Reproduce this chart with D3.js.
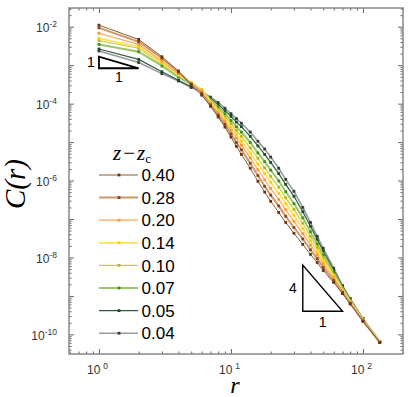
<!DOCTYPE html>
<html>
<head>
<meta charset="utf-8">
<script src="https://cdn.jsdelivr.net/npm/d3@7"></script>
<style>
  body { margin: 0; background: #fff; }
  svg { display: block; }
</style>
</head>
<body>
<div id="chart"></div>
<script>
const rValues = [1, 2, 3, 4, 5, 6, 7, 8, 9, 10, 11, 12, 14, 16, 18, 20, 23, 26, 30, 35, 40, 45, 50, 60, 70, 80, 100, 134];

// log10 C(r), one array per z - zc
const logC040 = [-1.96, -2.33, -2.78, -3.15, -3.52, -3.78, -4.07, -4.35, -4.61, -4.87, -5.11, -5.32, -5.68, -6.02, -6.30, -6.54, -6.83, -7.09, -7.37, -7.66, -7.92, -8.13, -8.34, -8.65, -8.94, -9.21, -9.66, -10.21];
const logC028 = [-2.03, -2.39, -2.82, -3.18, -3.49, -3.73, -4.03, -4.30, -4.54, -4.79, -5.01, -5.20, -5.55, -5.87, -6.15, -6.38, -6.66, -6.93, -7.22, -7.52, -7.80, -8.03, -8.26, -8.60, -8.91, -9.19, -9.65, -10.21];
const logC020 = [-2.17, -2.46, -2.89, -3.22, -3.47, -3.67, -4.00, -4.24, -4.47, -4.70, -4.90, -5.08, -5.41, -5.72, -5.98, -6.21, -6.49, -6.76, -7.06, -7.38, -7.68, -7.93, -8.17, -8.54, -8.88, -9.17, -9.64, -10.20];
const logC014 = [-2.30, -2.52, -2.93, -3.24, -3.45, -3.64, -3.96, -4.19, -4.40, -4.61, -4.80, -4.97, -5.28, -5.57, -5.82, -6.05, -6.33, -6.60, -6.90, -7.25, -7.56, -7.84, -8.09, -8.49, -8.85, -9.15, -9.63, -10.20];
const logC010 = [-2.36, -2.56, -2.96, -3.27, -3.47, -3.64, -3.93, -4.14, -4.33, -4.52, -4.70, -4.85, -5.15, -5.42, -5.67, -5.89, -6.17, -6.45, -6.75, -7.11, -7.45, -7.74, -8.01, -8.44, -8.82, -9.13, -9.62, -10.20];
const logC007 = [-2.46, -2.65, -3.02, -3.31, -3.49, -3.65, -3.90, -4.08, -4.26, -4.44, -4.60, -4.74, -5.01, -5.28, -5.51, -5.73, -6.01, -6.29, -6.60, -6.97, -7.33, -7.65, -7.93, -8.39, -8.79, -9.11, -9.61, -10.19];
const logC005 = [-2.58, -2.85, -3.17, -3.39, -3.56, -3.67, -3.86, -4.02, -4.18, -4.33, -4.48, -4.60, -4.85, -5.10, -5.32, -5.53, -5.82, -6.10, -6.41, -6.81, -7.19, -7.53, -7.83, -8.33, -8.75, -9.08, -9.60, -10.19];
const logC004 = [-2.63, -2.93, -3.22, -3.41, -3.58, -3.69, -3.83, -3.97, -4.12, -4.26, -4.39, -4.51, -4.74, -4.98, -5.18, -5.39, -5.68, -5.97, -6.28, -6.70, -7.09, -7.45, -7.76, -8.28, -8.73, -9.07, -9.59, -10.19];

const seriesLabels = ["0.40", "0.28", "0.20", "0.14", "0.10", "0.07", "0.05", "0.04"];
const seriesLogC = [logC040, logC028, logC020, logC014, logC010, logC007, logC005, logC004];

// slope guides: [r, log10 C] corners
const guideSmall = [[1, -2.78], [1, -3.08], [2, -3.08]];
const guideBig = [[35, -8.20], [35, -9.40], [70, -9.40]];

const xTickPowers = [0, 1, 2];
const yTickPowers = [-2, -4, -6, -8, -10];

// styles
const lineColors = ["#8c5a32", "#c99a6c", "#ffa852", "#ffe15a", "#cccc3c", "#9cc66a", "#2f5b40", "#9a9a9a"];
const markerColors = ["#6b3410", "#8b4513", "#ff9430", "#ffd000", "#b8b81c", "#3c9614", "#1d4a2c", "#3a3a3a"];
const lineWidths = [1, 2, 1.2, 1.8, 1.2, 2, 1.2, 1.6];

const W = 415, H = 397;
const margin = { top: 8, right: 12, bottom: 43, left: 69 };

const svg = d3.select("#chart").append("svg")
  .attr("width", W)
  .attr("height", H);

const x = d3.scaleLog()
  .domain([0.593, 201])
  .range([margin.left, W - margin.right]);

const y = d3.scaleLog()
  .domain([Math.pow(10, -1.513), Math.pow(10, -10.51)])
  .range([margin.top, H - margin.bottom]);

const [x0, x1] = x.range();
const [y0, y1] = y.range();

// minor / major tick values
function logTicks(scale) {
  const d = scale.domain();
  const lo = Math.min(d[0], d[1]), hi = Math.max(d[0], d[1]);
  const major = [], minor = [];
  for (let k = Math.floor(Math.log10(lo)); k <= Math.ceil(Math.log10(hi)); k++) {
    for (let m = 1; m <= 9; m++) {
      const v = m * Math.pow(10, k);
      if (v < lo || v > hi) continue;
      (m === 1 ? major : minor).push(v);
    }
  }
  return { major, minor };
}
const xt = logTicks(x), yt = logTicks(y);

function ticks(axis, values, size, transform) {
  svg.append("g")
    .attr("transform", transform)
    .call(axis.tickValues(values).tickSize(-size).tickFormat(""))
    .call(g => g.select(".domain").remove())
    .call(g => g.selectAll(".tick line").attr("stroke", "#555").attr("stroke-width", 0.9));
}

ticks(d3.axisBottom(x), xt.minor, 2.5, `translate(0,${y1})`);
ticks(d3.axisBottom(x), xt.major, 5, `translate(0,${y1})`);
ticks(d3.axisTop(x), xt.minor, 2.5, `translate(0,${y0})`);
ticks(d3.axisTop(x), xt.major, 5, `translate(0,${y0})`);
ticks(d3.axisLeft(y), yt.minor, 2.5, `translate(${x0},0)`);
ticks(d3.axisLeft(y), yt.major, 5, `translate(${x0},0)`);
ticks(d3.axisRight(y), yt.minor, 2.5, `translate(${x1},0)`);
ticks(d3.axisRight(y), yt.major, 5, `translate(${x1},0)`);

// frame
svg.append("rect")
  .attr("x", x0).attr("y", y0)
  .attr("width", x1 - x0).attr("height", y1 - y0)
  .attr("fill", "none")
  .attr("stroke", "#888")
  .attr("stroke-width", 1.5);

// tick labels
const labelFont = "'Liberation Sans', Arial, sans-serif";
yTickPowers.forEach(p => {
  const t = svg.append("text")
    .attr("x", x0 - 12)
    .attr("y", y(Math.pow(10, p)) + 5.5)
    .attr("text-anchor", "end")
    .attr("font-family", labelFont)
    .attr("font-size", 12)
    .attr("fill", "#333");
  t.append("tspan").text("10");
  t.append("tspan").attr("dy", -4.8).attr("font-size", 8.5).text(String(p));
});
xTickPowers.forEach(p => {
  const t = svg.append("text")
    .attr("x", x(Math.pow(10, p)) - 12)
    .attr("y", y1 + 20)
    .attr("font-family", labelFont)
    .attr("font-size", 12)
    .attr("fill", "#333");
  t.append("tspan").text("10");
  t.append("tspan").attr("dx", 3).attr("dy", -5).attr("font-size", 8.5).text(String(p));
});

// axis titles
const mathFont = "'Liberation Serif', 'DejaVu Serif', serif";
svg.append("text")
  .attr("transform", `translate(25,${(y0 + y1) / 2 + 3}) rotate(-90)`)
  .attr("text-anchor", "middle")
  .attr("font-family", mathFont)
  .attr("font-style", "italic")
  .attr("font-size", 29)
  .text("C(r)");

svg.append("text")
  .attr("x", 235)
  .attr("y", 393)
  .attr("text-anchor", "middle")
  .attr("font-family", mathFont)
  .attr("font-style", "italic")
  .attr("font-size", 24)
  .text("r");

// curves
const line = d3.line()
  .x(d => x(d.r))
  .y(d => y(d.c));

const series = seriesLabels.map((label, i) => ({
  label,
  i,
  values: rValues.map((r, j) => ({ r, c: Math.pow(10, seriesLogC[i][j]) }))
}));

const plot = svg.append("g");
series.slice().reverse().forEach(s => {
  const g = plot.append("g");
  g.append("path")
    .datum(s.values)
    .attr("d", line)
    .attr("fill", "none")
    .attr("stroke", lineColors[s.i])
    .attr("stroke-width", lineWidths[s.i]);
  g.selectAll("rect")
    .data(s.values)
    .enter()
    .append("rect")
    .attr("x", d => x(d.r) - 1.4)
    .attr("y", d => y(d.c) - 1.4)
    .attr("width", 2.8)
    .attr("height", 2.8)
    .attr("fill", markerColors[s.i]);
});

// slope guides
const guideLine = d3.line()
  .x(d => x(d[0]))
  .y(d => y(Math.pow(10, d[1])))
  .curve(d3.curveLinearClosed);

svg.append("path")
  .attr("d", guideLine(guideSmall))
  .attr("fill", "none")
  .attr("stroke", "#000")
  .attr("stroke-width", 1.8);
svg.append("path")
  .attr("d", guideLine(guideBig))
  .attr("fill", "none")
  .attr("stroke", "#000")
  .attr("stroke-width", 1.4);

const gs = guideSmall, gb = guideBig;
function guideText(px, py, s) {
  svg.append("text")
    .attr("x", px).attr("y", py)
    .attr("text-anchor", "middle")
    .attr("font-family", labelFont)
    .attr("font-size", 14)
    .text(s);
}
guideText(x(gs[0][0]) - 8, y(Math.pow(10, (gs[0][1] + gs[1][1]) / 2)) + 5, "1");
guideText(x(Math.sqrt(gs[1][0] * gs[2][0])), y(Math.pow(10, gs[1][1])) + 14, "1");
guideText(x(gb[0][0]) - 10, y(Math.pow(10, (gb[0][1] + gb[1][1]) / 2)) + 5, "4");
guideText(x(Math.sqrt(gb[1][0] * gb[2][0])), y(Math.pow(10, gb[1][1])) + 16, "1");

// legend
const legend = svg.append("g").attr("transform", "translate(99,175)");
const legendTitle = legend.append("text")
  .attr("x", 14)
  .attr("y", -15)
  .attr("font-family", mathFont)
  .attr("font-size", 21);
legendTitle.append("tspan").attr("font-style", "italic").text("z");
legendTitle.append("tspan").attr("dx", 2).text("\u2212");
legendTitle.append("tspan").attr("dx", 2).attr("font-style", "italic").text("z");
legendTitle.append("tspan").attr("dy", 3).attr("font-size", 13).text("c");

series.forEach((s, i) => {
  const row = legend.append("g").attr("transform", `translate(0,${i * 22.6})`);
  row.append("line")
    .attr("x1", 0).attr("x2", 39)
    .attr("stroke", lineColors[s.i])
    .attr("stroke-width", lineWidths[s.i]);
  row.append("rect")
    .attr("x", 18.6).attr("y", -1.4)
    .attr("width", 2.8).attr("height", 2.8)
    .attr("fill", markerColors[s.i]);
  row.append("text")
    .attr("x", 42.5)
    .attr("y", 6.2)
    .attr("font-family", labelFont)
    .attr("font-size", 17)
    .text(s.label);
});
</script>
</body>
</html>
